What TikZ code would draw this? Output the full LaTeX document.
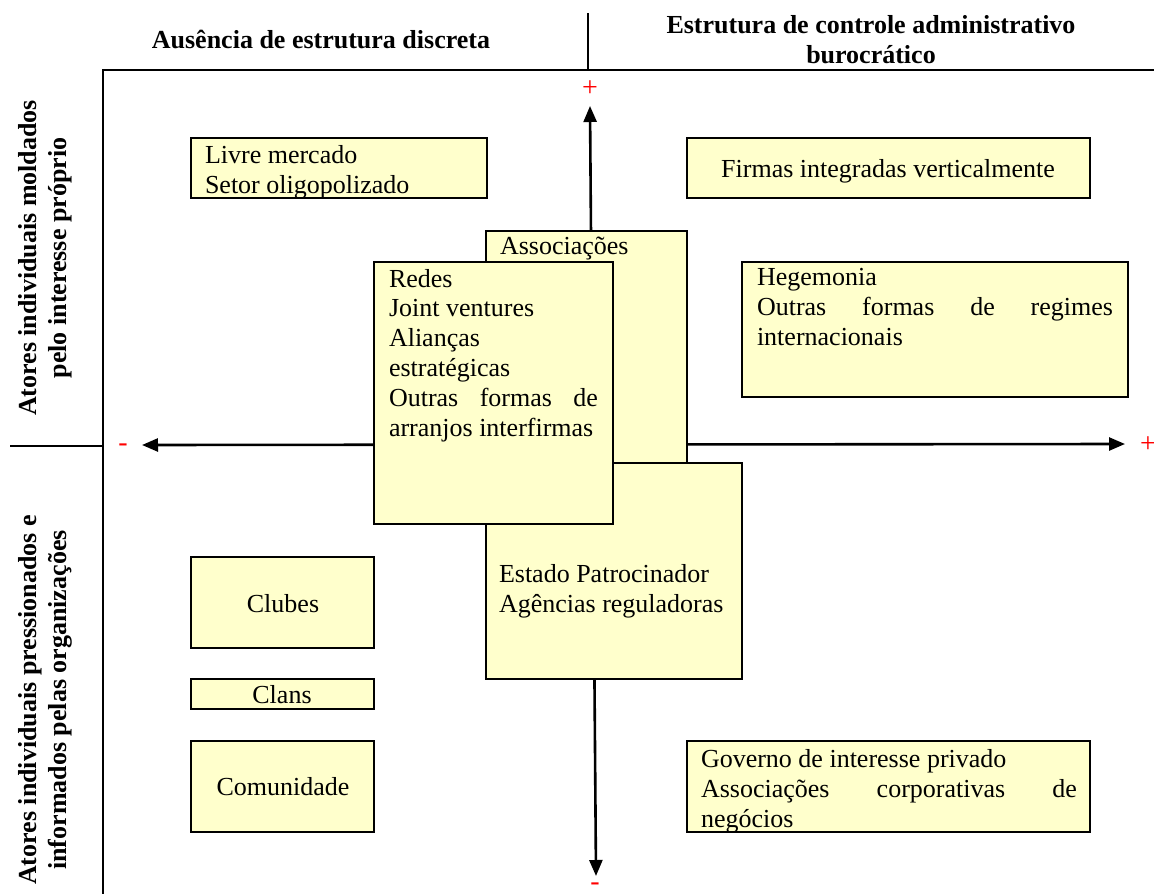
\documentclass[tikz,border=0pt]{standalone}
\usepackage{fontspec}
\setmainfont{Liberation Serif}
\usetikzlibrary{arrows.meta}
\definecolor{boxfill}{HTML}{FFFFCC}
\definecolor{signred}{HTML}{FF0000}
\begin{document}
\begin{tikzpicture}[x=1pt,y=-1pt,
  every node/.style={inner sep=0pt, outer sep=0pt},
  frame/.style={line width=2pt},
  thinline/.style={line width=1.3pt},
  axis/.style={line width=2.6pt, {Triangle[length=16pt,width=13pt]}-{Triangle[length=16pt,width=13pt]}},
  box/.style={draw, line width=2pt, fill=boxfill, anchor=north west},
  txt/.style={font=\fontsize{26}{29.8}\selectfont, align=left, anchor=base west},
  ctxt/.style={font=\fontsize{26}{29.8}\selectfont, anchor=base},
  head/.style={font=\fontsize{26}{29.8}\selectfont\bfseries, align=center, anchor=base},
  sign/.style={font=\fontsize{28}{30}\selectfont, text=signred}
]
\useasboundingbox (0,0) rectangle (1154,894);
\fill[white] (0,0) rectangle (1154,894);

% frame
\coordinate (f1) at (103,70);
\coordinate (f2) at (1154,70);
\coordinate (f3) at (103,894);
\coordinate (d1) at (588,13);
\coordinate (d2) at (588,70);
\coordinate (l1) at (10,446);
\coordinate (l2) at (103,446);
\draw[frame] (f2) -- (f1) -- (f3);
\draw[thinline] (d1) -- (d2);
\draw[thinline] (l1) -- (l2);

% headings (base = baseline of last line)
\node[head] (hA) at (321,48) {Ausência de estrutura discreta};
\node[head] (hB) at (871,63) {Estrutura de controle administrativo\\burocrático};
\node[head, rotate=90] (vA) at (66,258) {Atores individuais moldados\\pelo interesse próprio};
\node[head, rotate=90] (vB) at (66,700) {Atores individuais pressionados e\\informados pelas organizações};

% axes
\coordinate (vtop) at (590,106);
\coordinate (vbot) at (596,876);
\coordinate (hleft) at (142,445);
\coordinate (hright) at (1125,444);
\draw[axis] (vbot) -- (vtop);
\draw[axis] (hleft) -- (hright);
\node[sign] (pT) at (590,89) {+};
\node[sign] (mL) at (123,448) {-};
\node[sign] (pR) at (1148,445) {+};
\node[sign] (mB) at (595,887) {-};

% boxes
\node[box, minimum width=296pt, minimum height=60pt] (livre) at (191,138) {};
\node[txt] (livreT) at (205,193) {Livre mercado\\Setor oligopolizado};

\node[box, minimum width=403pt, minimum height=60pt] (firmas) at (687,138) {};
\node[ctxt] (firmasT) at (888,177) {Firmas integradas verticalmente};

\node[box, minimum width=386pt, minimum height=135pt] (hegem) at (742,262) {};
\node[txt] (hegemT) at (757,345) {Hegemonia\\\makebox[356pt][s]{Outras formas de regimes}\\internacionais};

\node[box, minimum width=201pt, minimum height=370pt] (assoc) at (486,231) {};
\node[txt] (assocT) at (500,254) {Associações};

\node[box, minimum width=256pt, minimum height=216pt] (estado) at (486,463) {};
\node[txt] (estadoT) at (499,612) {Estado Patrocinador\\Agências reguladoras};

\node[box, minimum width=239pt, minimum height=262pt] (redes) at (374,262) {};
\node[txt] (redesT) at (389,436) {Redes\\Joint ventures\\Alianças\\estratégicas\\\makebox[209pt][s]{Outras formas de}\\arranjos interfirmas};

\node[box, minimum width=183pt, minimum height=91pt] (clubes) at (191,557) {};
\node[ctxt] (clubesT) at (283,612) {Clubes};

\node[box, minimum width=183pt, minimum height=30pt] (clans) at (191,679) {};
\node[ctxt] (clansT) at (282,703) {Clans};

\node[box, minimum width=183pt, minimum height=91pt] (comun) at (191,741) {};
\node[ctxt] (comunT) at (283,795) {Comunidade};

\node[box, minimum width=403pt, minimum height=91pt] (gov) at (687,741) {};
\node[txt] (govT) at (701,827) {Governo de interesse privado\\\makebox[376pt][s]{Associações corporativas de}\\negócios};
\end{tikzpicture}
\end{document}
